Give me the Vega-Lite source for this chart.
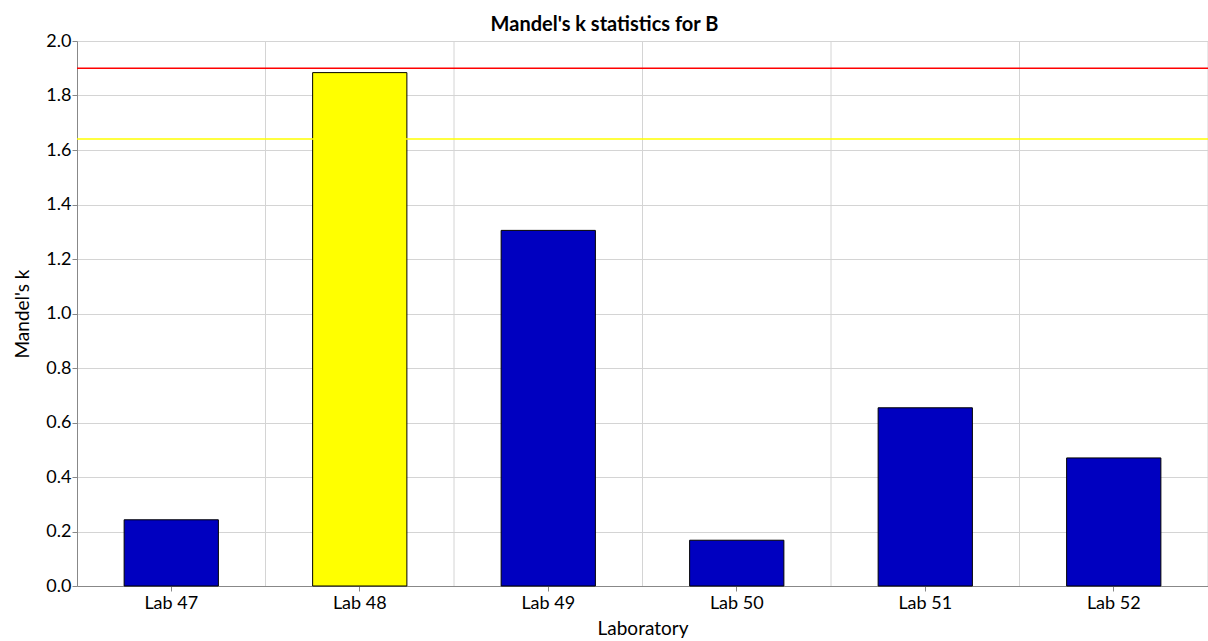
{
  "$schema": "https://vega.github.io/schema/vega-lite/v6.json",
  "width": 1131,
  "height": 545,
  "autosize": {"type": "none"},
  "padding": {"left": 77, "top": 41, "right": 0, "bottom": 55},
  "background": "white",
  "config": {
    "font": "Lato",
    "view": {"stroke": null},
    "axis": {
      "labelFont": "Lato",
      "titleFont": "Lato",
      "labelFontSize": 18,
      "titleFontSize": 19,
      "labelColor": "#000000",
      "titleColor": "#000000",
      "titleFontWeight": "normal",
      "domainColor": "#888888",
      "tickColor": "#888888",
      "tickSize": 5,
      "gridColor": "#d4d4d4"
    }
  },
  "title": {
    "text": "Mandel's k statistics for B",
    "font": "Lato",
    "fontSize": 20,
    "fontWeight": "bold",
    "color": "#000000",
    "anchor": "middle",
    "dx": -38,
    "baseline": "alphabetic",
    "offset": -19
  },
  "data": {
    "values": [
      {"lab": "Lab 47", "k": 0.243, "status": "ok"},
      {"lab": "Lab 48", "k": 1.884, "status": "warn"},
      {"lab": "Lab 49", "k": 1.305, "status": "ok"},
      {"lab": "Lab 50", "k": 0.168, "status": "ok"},
      {"lab": "Lab 51", "k": 0.654, "status": "ok"},
      {"lab": "Lab 52", "k": 0.470, "status": "ok"}
    ]
  },
  "layer": [
    {
      "mark": {"type": "rule", "color": "#d4d4d4", "strokeWidth": 1},
      "encoding": {
        "x": {"field": "lab", "type": "nominal", "bandPosition": 1.5, "title": "Laboratory",
              "scale": {"paddingInner": 0.5, "paddingOuter": 0.25},
              "axis": {"labelAngle": 0, "grid": false, "labelPadding": 3, "titlePadding": 7}}
      }
    },
    {
      "mark": {"type": "bar", "stroke": "#000000", "strokeWidth": 1},
      "encoding": {
        "x": {"field": "lab", "type": "nominal", "title": "Laboratory",
              "scale": {"paddingInner": 0.5, "paddingOuter": 0.25},
              "axis": {"labelAngle": 0, "grid": false, "labelPadding": 3, "titlePadding": 7}},
        "y": {"field": "k", "type": "quantitative", "title": "Mandel's k",
              "scale": {"domain": [0, 2], "nice": false},
              "axis": {"values": [0, 0.2, 0.4, 0.6, 0.8, 1.0, 1.2, 1.4, 1.6, 1.8, 2.0],
                       "format": ".1f", "grid": true, "labelPadding": 1, "titlePadding": 13}},
        "color": {"field": "status", "type": "nominal",
                  "scale": {"domain": ["ok", "warn"], "range": ["#0000c0", "#ffff00"]},
                  "legend": null}
      }
    },
    {
      "data": {
        "values": [
          {"level": "1%", "limit": 1.90},
          {"level": "5%", "limit": 1.64}
        ]
      },
      "mark": {"type": "rule", "strokeWidth": 1.5},
      "encoding": {
        "y": {"field": "limit", "type": "quantitative"},
        "color": {"field": "level", "type": "nominal",
                  "scale": {"domain": ["1%", "5%"], "range": ["#ff0000", "#ffff00"]},
                  "legend": null}
      }
    }
  ],
  "resolve": {"scale": {"color": "independent"}}
}
